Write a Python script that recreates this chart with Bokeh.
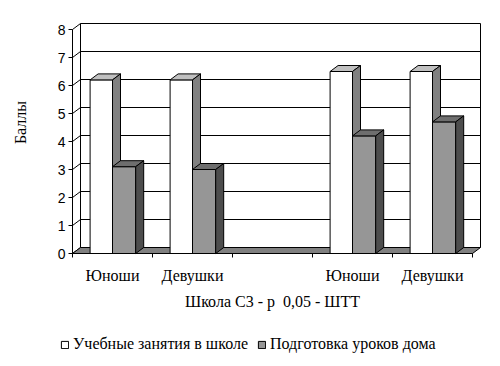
import math
from bokeh.plotting import figure
from bokeh.models import Range1d, FixedTicker, Label, Legend, LegendItem
from bokeh.embed import file_html
from bokeh.resources import INLINE

# ---- data ----
categories = ["Юноши", "Девушки", "", "Юноши", "Девушки"]
school = [6.2, 6.2, None, 6.5, 6.5]      # Учебные занятия в школе
home = [3.1, 3.0, None, 4.2, 4.7]        # Подготовка уроков дома
y_ticks = [0, 1, 2, 3, 4, 5, 6, 7, 8]
series_names = ["Учебные занятия в школе", "Подготовка уроков дома"]
x_title = "Школа С3 - р \u00a00,05 - ШТТ"
y_title = "Баллы"

SERIF = "Liberation Serif"
SANS = "Liberation Sans"

# ---- 3D geometry (styling) ----
W, H = 492, 358
OX, OY = 72, 253              # pixel position of the data origin
SX, SY = 80.0, 28.0           # px per unit
DX, DY = 8 / SX, 6 / SY       # depth offset in data units
n = len(categories)
ymax = max(y_ticks)

p = figure(width=W, height=H, output_backend="svg", toolbar_location=None,
           x_range=Range1d(-OX / SX, (W - OX) / SX),
           y_range=Range1d(-(H - OY) / SY, OY / SY),
           min_border=0)
p.xgrid.visible = False
p.ygrid.visible = False
p.outline_line_color = None
p.background_fill_color = "white"
p.border_fill_color = "white"

# back wall gridlines + edges
gy = [t + DY for t in y_ticks[1:]]
p.segment(x0=[DX] * len(gy), y0=gy, x1=[n + DX] * len(gy), y1=gy,
          line_color="black", line_width=1)
p.segment(x0=[DX, n + DX], y0=[DY, DY], x1=[DX, n + DX], y1=[ymax + DY, ymax + DY],
          line_color="black", line_width=1)
# side wall diagonals
p.segment(x0=[0] * len(y_ticks), y0=y_ticks, x1=[DX] * len(y_ticks),
          y1=[t + DY for t in y_ticks], line_color="black", line_width=1)
# floor
p.patch(x=[0, n, n + DX, DX], y=[0, 0, DY, DY], fill_color="#808080",
        line_color="black", line_width=1)

w_left, mid, g_right = 0.22, 0.5, 0.79
colors = {
    0: ("#ffffff", "#c0c0c0", "#808080"),
    1: ("#969696", "#6e6e6e", "#4d4d4d"),
}
fronts = {}
for s, vals in enumerate([school, home]):
    front_c, top_c, side_c = colors[s]
    L, R, B, T = [], [], [], []
    txs, tys, sxs, sys_ = [], [], [], []
    for i, v in enumerate(vals):
        if v is None:
            continue
        x0 = i + (w_left if s == 0 else mid)
        x1 = i + (mid if s == 0 else g_right)
        L.append(x0); R.append(x1); B.append(0); T.append(v)
        txs.append([x0, x1, x1 + DX, x0 + DX]); tys.append([v, v, v + DY, v + DY])
        sxs.append([x1, x1 + DX, x1 + DX, x1]); sys_.append([0, DY, v + DY, v])
    fronts[s] = p.quad(left=L, right=R, bottom=B, top=T, fill_color=front_c,
                       line_color="black", line_width=1)
    p.patches(xs=txs, ys=tys, fill_color=top_c, line_color="black", line_width=1)
    p.patches(xs=sxs, ys=sys_, fill_color=side_c, line_color="black", line_width=1)

# axes (fixed at the data origin, inside the full-canvas frame)
ya = p.yaxis[0]
ya.fixed_location = 0
ya.ticker = FixedTicker(ticks=y_ticks, minor_ticks=[])
ya.bounds = (0, ymax)
ya.major_tick_out = 4
ya.major_tick_in = 0
ya.minor_tick_out = 0
ya.minor_tick_in = 0
ya.major_label_standoff = 3
ya.major_label_text_font = SANS
ya.major_label_text_font_size = "14px"
ya.major_label_text_color = "black"
ya.axis_line_color = "black"
ya.major_tick_line_color = "black"

xa = p.xaxis[0]
xa.fixed_location = 0
centers = [i + 0.5 for i in range(n)]
xa.ticker = FixedTicker(ticks=centers, minor_ticks=list(range(n + 1)))
xa.major_label_overrides = {c: lab for c, lab in zip(centers, categories)}
xa.bounds = (0, n)
xa.major_tick_out = 0
xa.major_tick_in = 0
xa.minor_tick_out = 4
xa.minor_tick_in = 0
xa.minor_tick_line_color = "black"
xa.major_label_standoff = 9
xa.major_label_text_font = SERIF
xa.major_label_text_font_size = "16px"
xa.major_label_text_color = "black"
xa.axis_line_color = "black"

p.add_layout(Label(x=n / 2, y=-48 / SY, text=x_title,
                   text_align="center", text_baseline="middle",
                   text_font=SERIF, text_font_size="16px",
                   text_color="black"))
p.add_layout(Label(x=-52 / SX, y=131 / SY, text=y_title, angle=math.pi / 2,
                   text_align="center", text_baseline="middle",
                   text_font=SERIF, text_font_size="16px",
                   text_color="black"))

legend = Legend(items=[LegendItem(label=series_names[0], renderers=[fronts[0]]),
                       LegendItem(label=series_names[1], renderers=[fronts[1]])],
                orientation="horizontal", location=(60, H - 353),
                glyph_width=9, glyph_height=9, label_standoff=4, spacing=9,
                padding=6, margin=0, border_line_color=None,
                background_fill_color="white",
                label_text_font=SERIF, label_text_font_size="16px",
                label_text_color="black")
p.add_layout(legend, "center")

open("out.html", "w").write(file_html(p, INLINE))
